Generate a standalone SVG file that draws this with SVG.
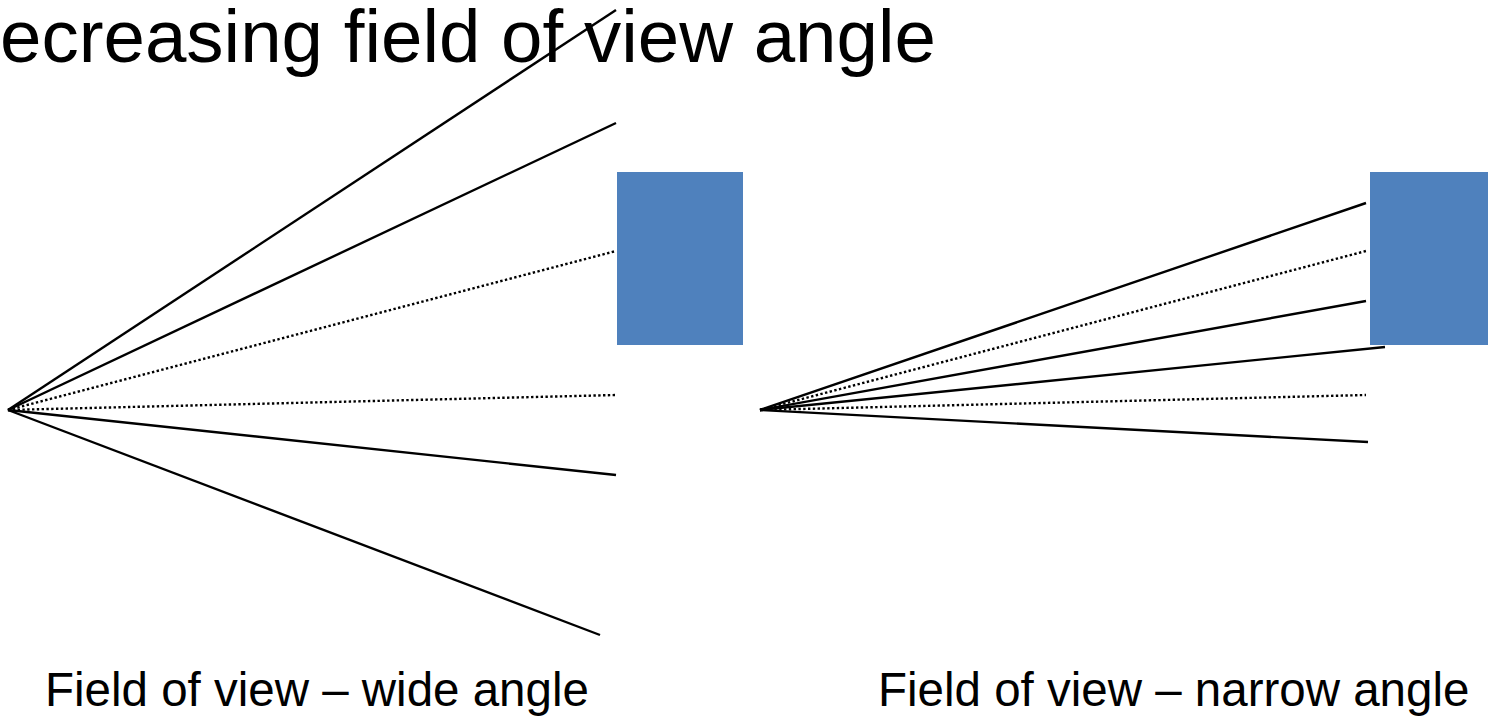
<svg xmlns="http://www.w3.org/2000/svg" width="1488" height="717" viewBox="0 0 1488 717">
<style>
.t{font-family:"Liberation Sans",Arial,sans-serif;fill:#000}
.s{stroke:#000;stroke-width:2.4;fill:none}
.d{stroke:#000;stroke-width:2.4;stroke-dasharray:2.4 2.4;fill:none}
.obj{fill:#4f81bd}
</style>
<rect width="1488" height="717" fill="#fff"/>
<g id="title"><text class="t" x="0" y="62" font-size="74.5">ecreasing field of view angle</text></g>
<g id="object-left"><rect class="obj" x="617" y="172" width="126" height="173"/></g>
<g id="object-right"><rect class="obj" x="1370" y="172" width="118" height="173"/></g>
<g id="connectors">
<line class="s" x1="8" y1="410" x2="616" y2="10"/>
<line class="s" x1="8" y1="410" x2="616" y2="123"/>
<line class="d" x1="8" y1="410" x2="616" y2="251"/>
<line class="d" x1="8" y1="410" x2="616" y2="395"/>
<line class="s" x1="8" y1="410" x2="616" y2="475"/>
<line class="s" x1="8" y1="410" x2="600" y2="635"/>
<line class="s" x1="760" y1="410" x2="1366" y2="203"/>
<line class="d" x1="760" y1="410" x2="1366" y2="251"/>
<line class="s" x1="760" y1="410" x2="1366" y2="301"/>
<line class="s" x1="760" y1="410" x2="1385" y2="347"/>
<line class="d" x1="760" y1="410" x2="1366" y2="395"/>
<line class="s" x1="760" y1="410" x2="1368" y2="442"/>
</g>
<g id="label-left"><text class="t" x="45" y="706" font-size="47.5">Field of view – wide angle</text></g>
<g id="label-right"><text class="t" x="878" y="706" font-size="47.5">Field of view – narrow angle</text></g>
</svg>
